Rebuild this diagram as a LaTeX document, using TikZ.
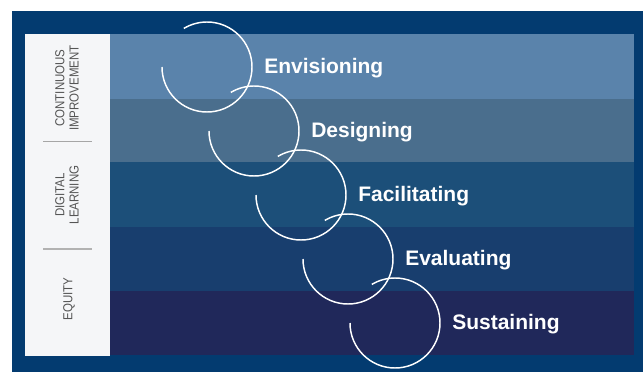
\documentclass[tikz,border=0pt]{standalone}
\usepackage{fontspec}
\setmainfont{Liberation Sans}
\newfontfamily\narrowfont[FakeStretch=0.88]{Liberation Sans}
\usepackage{tikz}

\definecolor{frameblue}{HTML}{033B70}
\definecolor{bandA}{HTML}{5A83AB}
\definecolor{bandB}{HTML}{4A6E8D}
\definecolor{bandC}{HTML}{1C4F79}
\definecolor{bandD}{HTML}{183E6E}
\definecolor{bandE}{HTML}{20285A}
\definecolor{sidebar}{HTML}{F5F6F8}
\definecolor{sidetext}{HTML}{555555}

\begin{document}
\begin{tikzpicture}[x=0.75pt,y=0.75pt,
  stage node/.style={anchor=base west,text=white,inner sep=0pt,font=\fontsize{15.75}{18}\selectfont\bfseries},
  side node/.style={rotate=90,align=center,text=sidetext,inner sep=0pt,font=\narrowfont\fontsize{9.8}{10.8}\selectfont},
  loop arc/.style={white,line width=1.1pt}]
  \useasboundingbox (0,0) rectangle (643,372);
  \fill[white] (0,0) rectangle (643,372);
  \fill[frameblue] (12,0) rectangle (643,361);

  % horizontal bands, lightest at the top
  \fill[bandA] (110,273.3) rectangle (634,337.5);
  \fill[bandB] (110,209.5) rectangle (634,273.3);
  \fill[bandC] (110,145.3) rectangle (634,209.5);
  \fill[bandD] (110,81.3) rectangle (634,145.3);
  \fill[bandE] (110,17) rectangle (634,81.3);

  % side column with the three themes
  \fill[sidebar] (25,16) rectangle (110,338);
  \draw[gray!70,line width=0.6pt] (43,231) -- (92,231);
  \draw[gray!60,line width=1.1pt] (43,123) -- (92,123);
  \node[side node] (ci) at (67,284) {CONTINUOUS\\IMPROVEMENT};
  \node[side node] (dl) at (67,177) {DIGITAL\\LEARNING};
  \node[side node] (eq) at (69,73) {EQUITY};

  % open loops, one per stage
  \draw[loop arc] (162,305) arc[start angle=180,end angle=481,radius=45];
  \draw[loop arc] (209,241) arc[start angle=180,end angle=481,radius=45];
  \draw[loop arc] (256,177) arc[start angle=180,end angle=481,radius=45];
  \draw[loop arc] (303,113) arc[start angle=180,end angle=481,radius=45];
  \draw[loop arc] (350,49) arc[start angle=180,end angle=481,radius=45];

  \node[stage node] (env) at (264,298.5) {Envisioning};
  \node[stage node] (des) at (311,234.5) {Designing};
  \node[stage node] (fac) at (358,170.5) {Facilitating};
  \node[stage node] (eva) at (405,106.5) {Evaluating};
  \node[stage node] (sus) at (452,42.5) {Sustaining};
\end{tikzpicture}
\end{document}
